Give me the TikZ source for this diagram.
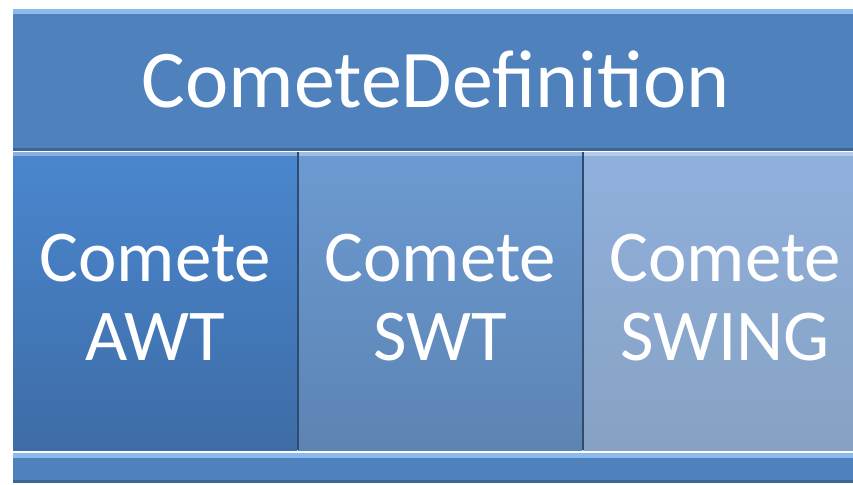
\documentclass[tikz,border=0pt]{standalone}
\usepackage{fontspec}
\setmainfont{Carlito}
\definecolor{barBlue}{HTML}{4F81BD}
\definecolor{barLight}{HTML}{8CB9EE}
\definecolor{barDark}{HTML}{3D6594}
\definecolor{awtTop}{HTML}{4A87CF}
\definecolor{awtBot}{HTML}{3E6CA6}
\definecolor{swtTop}{HTML}{6C9AD2}
\definecolor{swtBot}{HTML}{5C84B3}
\definecolor{swingTop}{HTML}{90B0DC}
\definecolor{swingBot}{HTML}{86A1C3}
\definecolor{edgeDark}{HTML}{2F4B70}
\begin{document}
\begin{tikzpicture}
[x=1pt,y=1pt,
  barDecorate/.style={shape=rectangle,anchor=north west,inner sep=0pt,
    fill=barBlue,text=white,
    path picture={
      \fill[barLight] (path picture bounding box.north west)
        rectangle ([yshift=-5pt]path picture bounding box.north east);
      \fill[barDark] (path picture bounding box.south west)
        rectangle ([yshift=3pt]path picture bounding box.south east);}},
  boxDecorate/.style 2 args={shape=rectangle,anchor=north west,inner sep=0pt,
    minimum width=284pt,minimum height=298pt,
    top color=#1,bottom color=#2,text=white,align=center,
    font=\fontsize{73}{79}\selectfont,
    path picture={
      \fill[white,opacity=0.35] (path picture bounding box.north west)
        rectangle ([yshift=-4pt]path picture bounding box.north east);}}]
\useasboundingbox[fill=white] (0,0) rectangle (853,484);
%% title bar
\node (title) at (13,475) [barDecorate,minimum width=845pt,minimum height=142pt,
  font=\fontsize{82}{82}\selectfont] {\raisebox{2pt}{CometeDefinition}};
%% the three boxes
\foreach \boxname/\x/\top/\bot/\label in {
  awt/13/awtTop/awtBot/AWT, swt/298/swtTop/swtBot/SWT,
  swing/583/swingTop/swingBot/SWING}
{
  \node (\boxname) at (\x,332) [boxDecorate={\top}{\bot}] {};
  \node (\boxname text) at ([yshift=4pt]\boxname.center) [text=white,align=center,
    font=\fontsize{73}{79}\selectfont] {Comete\\\label};
}
\draw[edgeDark,line width=1.5pt] (swt.north west) -- (swt.south west);
\draw[edgeDark,line width=1.5pt] (swing.north west) -- (swing.south west);
%% bottom bar
\node (base) at (13,31) [barDecorate,minimum width=845pt,minimum height=30pt] {};
\end{tikzpicture}
\end{document}
